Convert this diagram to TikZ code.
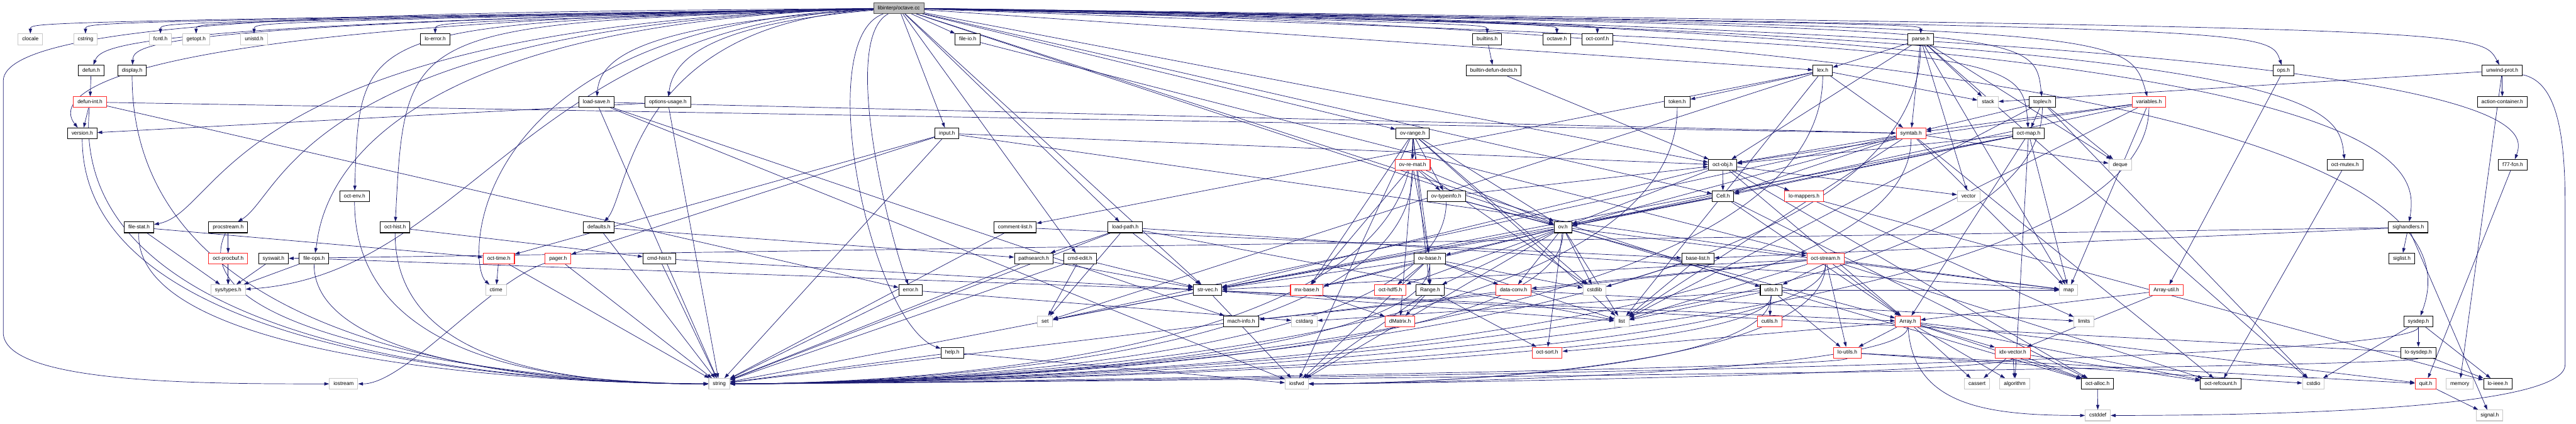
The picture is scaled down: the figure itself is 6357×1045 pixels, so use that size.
\documentclass[tikz,border=0pt]{standalone}
\usepackage{fontspec}
\setmainfont{Liberation Sans}
\usetikzlibrary{arrows.meta}
\pgfdeclarelayer{edges}
\pgfsetlayers{edges,main}
\definecolor{edgecol}{RGB}{25,25,112}
\definecolor{sysgray}{RGB}{200,200,200}
\definecolor{rootgray}{RGB}{191,191,191}
\definecolor{nodered}{RGB}{255,40,40}
\tikzset{
  nd/.style={draw=black, line width=1.6pt, fill=white, font=\fontsize{13}{15}\selectfont,
    inner xsep=10pt, inner ysep=0pt, minimum height=26.5pt, text height=9.6pt, text depth=2.8pt},
  blk/.style={nd},
  sys/.style={nd, draw=sysgray},
  rnd/.style={nd, draw=nodered},
  rootnd/.style={nd, fill=rootgray, draw=black!70},
  edg/.style={draw=edgecol, line width=1.1pt, -{Triangle[length=12pt,width=8pt]}},
}
\begin{document}
\begin{tikzpicture}[x=1pt,y=-1pt]
\useasboundingbox (0,0) rectangle (6357,1045);
% row 0
\node[rootnd] (root) at (2218,20) {libinterp/octave.cc};
% row 1
\node[sys] (clocale) at (75,97) {clocale};
\node[sys] (cstring) at (211,97) {cstring};
\node[sys] (fcntl) at (396,97) {fcntl.h};
\node[sys] (getopt) at (484,97) {getopt.h};
\node[sys] (unistd) at (627,97) {unistd.h};
\node[blk] (loerror) at (1074,97) {lo-error.h};
\node[blk] (fileio) at (2388,97) {file-io.h};
\node[blk] (builtins) at (3670,97) {builtins.h};
\node[blk] (octaveh) at (3842,97) {octave.h};
\node[blk] (octconf) at (3942,97) {oct-conf.h};
\node[blk] (parse) at (4740,97) {parse.h};
% row 2
\node[blk] (defun) at (225,174) {defun.h};
\node[blk] (display) at (326,174) {display.h};
\node[blk] (builtindecls) at (3686,174) {builtin-defun-decls.h};
\node[blk] (lex) at (4498,174) {lex.h};
\node[blk] (ops) at (5635,174) {ops.h};
\node[blk] (unwind) at (6175,174) {unwind-prot.h};
% row 3
\node[rnd] (defunint) at (222,252) {defun-int.h};
\node[blk] (loadsave) at (1472,252) {load-save.h};
\node[blk] (optusage) at (1648,252) {options-usage.h};
\node[blk] (token) at (4139,252) {token.h};
\node[sys] (stack) at (4906,252) {stack};
\node[blk] (toplev) at (5040,252) {toplev.h};
\node[rnd] (variables) at (5303,252) {variables.h};
\node[blk] (action) at (6175,252) {action-container.h};
% row 4
\node[blk] (version) at (203,329) {version.h};
\node[blk] (input) at (2337,329) {input.h};
\node[blk] (ovrange) at (3486,329) {ov-range.h};
\node[rnd] (symtab) at (4716,329) {symtab.h};
\node[blk] (octmap) at (5006,329) {oct-map.h};
% row 5
\node[rnd] (ovremat) at (3486,407) {ov-re-mat.h};
\node[blk] (octobj) at (4251,407) {oct-obj.h};
\node[sys] (deque) at (5232,407) {deque};
\node[blk] (octmutex) at (5787,407) {oct-mutex.h};
\node[blk] (f77fcn) at (6201,407) {f77-fcn.h};
% row 6
\node[blk] (octenv) at (875,484) {oct-env.h};
\node[blk] (ovtypeinfo) at (3569,484) {ov-typeinfo.h};
\node[blk] (cell) at (4252,484) {Cell.h};
\node[rnd] (lomappers) at (4452,484) {lo-mappers.h};
\node[sys] (vector) at (4858,484) {vector};
% row 7
\node[blk] (filestat) at (343,561) {file-stat.h};
\node[blk] (procstream) at (563,561) {procstream.h};
\node[blk] (octhist) at (975,561) {oct-hist.h};
\node[blk] (defaults) at (1478,561) {defaults.h};
\node[blk] (commentlist) at (2505,561) {comment-list.h};
\node[blk] (loadpath) at (2777,561) {load-path.h};
\node[blk] (ovh) at (3857,561) {ov.h};
\node[blk] (sighandlers) at (5943,561) {sighandlers.h};
% row 8
\node[rnd] (octprocbuf) at (563,638) {oct-procbuf.h};
\node[blk] (syswait) at (675,638) {syswait.h};
\node[blk] (fileops) at (775,638) {file-ops.h};
\node[rnd] (octtime) at (1231,638) {oct-time.h};
\node[rnd] (pager) at (1377,638) {pager.h};
\node[blk] (cmdhist) at (1627,638) {cmd-hist.h};
\node[blk] (pathsearch) at (2551,638) {pathsearch.h};
\node[blk] (cmdedit) at (2665,638) {cmd-edit.h};
\node[blk] (ovbase) at (3528,638) {ov-base.h};
\node[blk] (baselist) at (4190,638) {base-list.h};
\node[rnd] (octstream) at (4505,638) {oct-stream.h};
\node[blk] (siglist) at (5927,638) {siglist.h};
% row 9
\node[sys] (systypes) at (563,716) {sys/types.h};
\node[sys] (ctime) at (1224,716) {ctime};
\node[blk] (error) at (2247,716) {error.h};
\node[blk] (strvec) at (2980,716) {str-vec.h};
\node[rnd] (mxbase) at (3225,716) {mx-base.h};
\node[rnd] (octhdf5) at (3431,716) {oct-hdf5.h};
\node[blk] (rangeh) at (3529,716) {Range.h};
\node[rnd] (dataconv) at (3735,716) {data-conv.h};
\node[sys] (cstdlib) at (3935,716) {cstdlib};
\node[blk] (utils) at (4371,716) {utils.h};
\node[sys] (map) at (5105,716) {map};
\node[rnd] (arrayutil) at (5346,716) {Array-util.h};
% row 10
\node[sys] (set) at (2579,793) {set};
\node[blk] (machinfo) at (3063,793) {mach-info.h};
\node[sys] (cstdarg) at (3219,793) {cstdarg};
\node[rnd] (dmatrix) at (3455,793) {dMatrix.h};
\node[sys] (list) at (4002,793) {list};
\node[rnd] (cutils) at (4367,793) {cutils.h};
\node[rnd] (array) at (4708,793) {Array.h};
\node[sys] (limits) at (5143,793) {limits};
\node[blk] (sysdep) at (5968,793) {sysdep.h};
% row 11
\node[blk] (help) at (2350,870) {help.h};
\node[rnd] (octsort) at (3818,870) {oct-sort.h};
\node[rnd] (loutils) at (4559,870) {lo-utils.h};
\node[rnd] (idxvector) at (4967,870) {idx-vector.h};
\node[blk] (losysdep) at (5968,870) {lo-sysdep.h};
% row 12
\node[sys] (iostream) at (848,947) {iostream};
\node[sys] (string) at (1775,947) {string};
\node[sys] (iosfwd) at (3200,947) {iosfwd};
\node[sys] (cassert) at (4879,947) {cassert};
\node[sys] (algorithm) at (4972,947) {algorithm};
\node[blk] (octalloc) at (5176,947) {oct-alloc.h};
\node[blk] (octrefcount) at (5480,947) {oct-refcount.h};
\node[sys] (cstdio) at (5709,947) {cstdio};
\node[rnd] (quit) at (5986,947) {quit.h};
\node[sys] (memory) at (6070,947) {memory};
\node[blk] (loieee) at (6164,947) {lo-ieee.h};
% row 13
\node[sys] (cstddef) at (5177,1025) {cstddef};
\node[sys] (signal) at (6144,1025) {signal.h};

\begin{pgfonlayer}{edges}
% ---- edges from the root file
\draw[edg] (root) .. controls (75,55) .. (clocale);
\draw[edg] (root) .. controls (211,55) .. (cstring);
\draw[edg] (root) .. controls (396,55) .. (fcntl);
\draw[edg] (root) .. controls (484,55) .. (getopt);
\draw[edg] (root) .. controls (627,55) .. (unistd);
\draw[edg] (root) .. controls (1074,55) .. (loerror);
\draw[edg] (root) .. controls (330,60) and (250,110) .. (defun);
\draw[edg] (root) .. controls (360,60) and (330,110) .. (display);
\draw[edg] (root) .. controls (150,60) and (140,250) .. (version);
\draw[edg] (root) .. controls (1200,30) and (8,30) .. (8,200) -- (8,820) .. controls (8,947) and (500,947) .. (iostream);
\draw[edg] (root) .. controls (555,60) and (555,520) .. (filestat);
\draw[edg] (root) .. controls (748,60) and (700,480) .. (procstream);
\draw[edg] (root) .. controls (887,60) .. (octenv);
\draw[edg] (root) .. controls (1000,60) .. (octhist);
\draw[edg] (root) .. controls (798,60) and (790,560) .. (fileops);
\draw[edg] (root) .. controls (1300,60) and (1150,680) .. (systypes);
\draw[edg] (root) .. controls (1148,60) and (1148,650) .. (ctime);
\draw[edg] (root) .. controls (1560,60) and (1480,150) .. (loadsave);
\draw[edg] (root) .. controls (1740,60) and (1660,150) .. (optusage);
\draw[edg] (root) .. controls (1553,60) and (1553,480) .. (defaults);
\draw[edg] (root) .. controls (2070,100) and (2200,600) .. (error);
\draw[edg] (root) .. controls (2000,100) and (2150,800) .. (help);
\draw[edg] (root) .. controls (3670,60) .. (builtins);
\draw[edg] (root) .. controls (3842,60) .. (octaveh);
\draw[edg] (root) .. controls (3942,60) .. (octconf);
\draw[edg] (root) .. controls (4740,60) .. (parse);
\draw[edg] (root) .. controls (5020,70) .. (toplev);
\draw[edg] (root) .. controls (5250,70) .. (variables);
\draw[edg] (root) .. controls (5600,70) .. (ops);
\draw[edg] (root) .. controls (6120,70) .. (unwind);
\draw[edg] (root) .. controls (5740,80) and (5770,250) .. (octmutex);
\draw[edg] (root) .. controls (6240,80) and (6240,300) .. (f77fcn);
\draw[edg] (root) .. controls (5970,60) and (5970,400) .. (sighandlers);
\draw[edg] (root) .. controls (6060,100) and (6040,600) .. (sysdep);
\draw[edg] (root) .. controls (4990,120) .. (octmap);
\foreach \b in {fileio,input,ovrange,lex,octobj,cell,utils,strvec,cmdedit,loadpath,ovh}
  \draw[edg] (root) -- (\b);
% ---- straight edges between headers
\foreach \a/\b in {defun/defunint, defunint/version, defunint/symtab, defunint/error,
  optusage/version, optusage/string, loadsave/iosfwd, loadsave/string, loadsave/machinfo,
  loadsave/symtab, filestat/systypes, filestat/octtime, procstream/octprocbuf,
  procstream/systypes, octprocbuf/systypes, syswait/systypes, fileops/systypes,
  fileops/strvec, octhist/cmdhist, cmdhist/string, cmdhist/strvec, octtime/ctime,
  octtime/string, pager/string, defaults/pathsearch, defaults/string, input/octtime,
  input/pager, input/string, input/octobj, input/octstream, fileio/octstream,
  commentlist/string, commentlist/baselist, loadpath/strvec, loadpath/pathsearch,
  loadpath/string, loadpath/map, loadpath/list, loadpath/set, pathsearch/strvec,
  pathsearch/string, cmdedit/set, cmdedit/string, cmdedit/strvec, error/string,
  error/cstdarg, strvec/set, strvec/string, strvec/iosfwd, strvec/array, strvec/list,
  help/string, help/iosfwd, machinfo/string, builtins/builtindecls, builtindecls/octobj,
  parse/lex, parse/symtab, parse/stack, parse/octobj, parse/vector, parse/cstdio,
  parse/map, parse/deque, lex/stack, lex/symtab, lex/commentlist, lex/token, lex/list,
  lex/set, toplev/symtab, toplev/octmap, toplev/deque, toplev/cstdio, toplev/list,
  variables/symtab, variables/ovh, variables/octobj, variables/map, variables/utils,
  symtab/deque, symtab/list, symtab/map, symtab/set, symtab/ovh, symtab/octrefcount,
  symtab/octobj, symtab/cell, octmap/cell, octmap/octobj, octmap/strvec, octmap/ovh,
  octmap/map, octmap/algorithm, octmap/array, octobj/cell, octobj/array, octobj/octalloc,
  octobj/strvec, octobj/ovh, octobj/lomappers, octobj/vector, cell/array, cell/ovh,
  cell/strvec, cell/octalloc, ovrange/ovremat, ovrange/ovtypeinfo, ovrange/ovbase,
  ovrange/ovh, ovrange/rangeh, ovrange/mxbase, ovrange/iosfwd, ovrange/cstdlib,
  ovrange/list, ovremat/ovtypeinfo, ovremat/ovbase, ovremat/mxbase, ovremat/dmatrix,
  ovremat/ovh, ovremat/cstdlib, ovtypeinfo/ovh, ovtypeinfo/octobj, ovtypeinfo/array,
  ovh/ovbase, ovh/dataconv, ovh/rangeh, ovh/octsort, ovh/cstdlib, ovh/list, ovh/iosfwd,
  ovh/octhdf5, ovh/mxbase, ovh/map, ovh/strvec, ovh/octalloc, ovbase/mxbase,
  ovbase/octhdf5, ovbase/rangeh, ovbase/dataconv, ovbase/cstdlib, ovbase/list,
  ovbase/iosfwd, ovbase/strvec, rangeh/dmatrix, rangeh/octsort, rangeh/iosfwd,
  mxbase/dmatrix, dataconv/limits, dataconv/machinfo, baselist/list, baselist/cstdlib,
  octstream/array, octstream/loutils, octstream/dataconv, octstream/strvec,
  octstream/octrefcount, octstream/map, octstream/machinfo, octstream/list,
  utils/cutils, utils/loutils, utils/list, utils/cstdarg, utils/map, array/loutils,
  array/idxvector, array/cassert, array/algorithm, array/octalloc, array/octsort,
  array/quit, array/octrefcount, idxvector/cassert, idxvector/algorithm,
  idxvector/octalloc, idxvector/octrefcount, loutils/cstdio, loutils/quit,
  octalloc/cstddef, lomappers/loieee, lomappers/limits, arrayutil/array,
  arrayutil/idxvector, ops/arrayutil, sysdep/losysdep, sysdep/loieee, sysdep/cstdio,
  losysdep/strvec, losysdep/loieee, quit/signal, octmutex/octrefcount, f77fcn/quit,
  unwind/action, unwind/stack, unwind/memory, sighandlers/syswait, sighandlers/siglist,
  sighandlers/baselist, sighandlers/signal}
  \draw[edg] (\a) -- (\b);
% ---- curved edges into string from the left
\draw[edg] (defunint) .. controls (160,900) and (1400,947) .. (string);
\draw[edg] (display) .. controls (326,900) and (1400,947) .. (string);
\draw[edg] (version) .. controls (203,900) and (1400,947) .. (string);
\draw[edg] (octenv) .. controls (875,900) and (1400,947) .. (string);
\draw[edg] (filestat) .. controls (330,900) and (1400,947) .. (string);
\draw[edg] (procstream) .. controls (426,850) and (1400,947) .. (string);
\draw[edg] (fileops) .. controls (775,900) and (1400,947) .. (string);
\draw[edg] (octhist) .. controls (975,900) and (1400,947) .. (string);
\draw[edg] (pager) .. controls (1200,700) and (1000,947) .. (iostream);
% ---- curved edges into string from the right
\foreach \a/\x in {parse/4740, lex/4498, token/4139, toplev/5040, variables/5303,
  symtab/4716, ovrange/3486, ovremat/3486, ovtypeinfo/3569, ovh/3857, ovbase/3528,
  octstream/4505, utils/4371, loutils/4559, sysdep/5968, losysdep/5968}
  \draw[edg] (\a) .. controls (\x,910) and (2100,947) .. (string);
% ---- curved edges into iosfwd from the right
\foreach \a/\x in {octstream/4505, utils/4371, array/4708, idxvector/4967}
  \draw[edg] (\a) .. controls (\x,920) and (3450,947) .. (iosfwd);
% ---- cstddef
\draw[edg] (array) .. controls (4720,1000) and (4900,1025) .. (cstddef);
\draw[edg] (unwind) .. controls (6300,200) and (6330,300) .. (6330,500) -- (6330,900) .. controls (6330,1010) and (5600,1025) .. (cstddef);
\end{pgfonlayer}
\end{tikzpicture}
\end{document}
